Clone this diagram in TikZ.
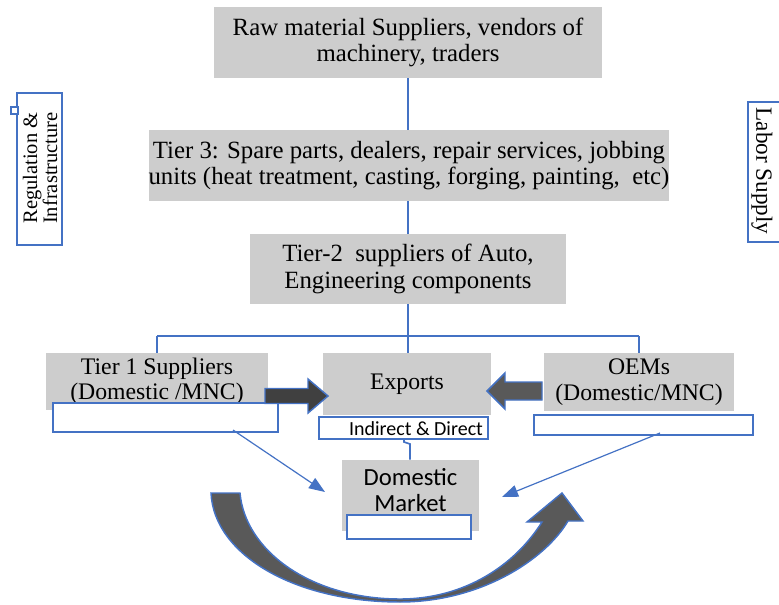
\documentclass[tikz,border=0pt]{standalone}
\usepackage{fontspec}
\setmainfont{Liberation Serif}
\newfontfamily\calfont{Carlito}
\usetikzlibrary{arrows.meta,calc}
\definecolor{oblue}{HTML}{4472C4}
\definecolor{boxgray}{HTML}{CDCDCD}
\definecolor{darkarr}{HTML}{404040}
\definecolor{midarr}{HTML}{595959}
\begin{document}
\begin{tikzpicture}[x=0.75pt,y=-0.75pt,
  graybox/.style={fill=boxgray, draw=none, inner sep=0pt, align=center, font=\fontsize{18.6}{20}\selectfont},
  lowbox/.style={graybox, font=\fontsize{17.8}{19}\selectfont},
  wbox/.style={draw=oblue, line width=1.3pt, fill=white, inner sep=0pt},
  conn/.style={draw=oblue, line width=1.4pt},
  thinarr/.style={draw=oblue, line width=0.9pt, -{Triangle[length=12pt,width=9pt]}},
  blockarr/.style={draw=oblue, line width=1.1pt, line join=miter},
]
\useasboundingbox (0,0) rectangle (779,604);
\clip (0,0) rectangle (779,604);

% main chain
\node[graybox, minimum width=291pt, minimum height=53.25pt] (raw) at (408,42.5)
  {Raw material Suppliers, vendors of\\machinery, traders};
\node[graybox, minimum width=385.5pt, minimum height=53.25pt] (t3) at (409,165.5)
  {Tier 3: Spare parts, dealers, repair services, jobbing\\units (heat treatment, casting, forging, painting,\ \ etc)};
\node[graybox, minimum width=237pt, minimum height=52.5pt] (t2) at (408,269)
  {Tier-2\ \ suppliers of Auto,\\Engineering components};

\node[lowbox, minimum width=166.5pt, minimum height=42.75pt] (t1) at (157,381.5)
  {Tier 1 Suppliers\\(Domestic /MNC)};
\node[lowbox, minimum width=126pt, minimum height=46.5pt] (ex) at (407,384) {Exports};
\node[lowbox, minimum width=142.5pt, minimum height=43.5pt] (oem) at (639,382)
  {OEMs\\(Domestic/MNC)};
\node[graybox, minimum width=102.75pt, minimum height=53.25pt] (dom) at (410.5,495.5) {};
\node[font=\calfont\fontsize{18.5}{19.5}\selectfont, align=center, inner sep=0pt] (domtxt) at (410.5,490) {Domestic\\Market};

% white boxes
\node[wbox, minimum width=168.75pt, minimum height=21.75pt] (t1w) at (165.5,417.5) {};
\node[wbox, minimum width=126.75pt, minimum height=16.5pt] (exw) at (403.5,428) {};
\node[font=\calfont\fontsize{15}{16}\selectfont, inner sep=0pt] (extxt) at (416,429) {Indirect \& Direct};
\node[wbox, minimum width=164.25pt, minimum height=15pt] (oemw) at (643.5,425) {};
\node[wbox, minimum width=93pt, minimum height=18pt] (domw) at (409,527) {};

% side boxes
\node[wbox, line width=1.5pt, minimum width=33.75pt, minimum height=114pt] (reg) at (39.5,169) {};
\node[rotate=90, align=center, inner sep=0pt,
  font=\fontsize{15.4}{15}\selectfont] (regtxt) at (40,168) {Regulation \&\\Infrastructure};
\node[draw=oblue, line width=1pt, fill=white, minimum size=5.25pt, inner sep=0pt] (sq) at (14.5,110.5) {};
\node[wbox, line width=1.5pt, anchor=north west, minimum width=40pt, minimum height=105pt] (labor) at (747,101) {};
\node[rotate=-90, inner sep=0pt, font=\fontsize{17.4}{19}\selectfont] (labtxt) at (762,171) {Labor Supply};

% connectors
\coordinate (jc) at (408,336);
\coordinate (hl) at (157,336);
\coordinate (hr) at (639,336);
\draw[conn] (raw.south) -- (raw.south |- t3.north);
\draw[conn] (raw.south |- t3.south) -- (raw.south |- t2.north);
\draw[conn] (t2.south) -- (jc);
\draw[conn] (hl) -- (hr);
\draw[conn] (hl) -- (t1.north);
\draw[conn] (jc) -- (jc |- ex.north);
\draw[conn] (hr) -- (oem.north);
\coordinate (jog1) at (404,442);
\coordinate (jog2) at (410,444);
\draw[conn, line width=1.2pt] (jog1 |- exw.south) -- (jog1) -- (jog2) -- (jog2 |- dom.north);

% thin arrows
\coordinate (a1s) at (233,430);
\coordinate (a1e) at (325,492);
\coordinate (a2s) at (660,433);
\coordinate (a2e) at (502,497);
\draw[thinarr] (a1s) -- (a1e);
\draw[thinarr] (a2s) -- (a2e);

% block arrows
\filldraw[blockarr, fill=darkarr] (265,388.5) -- (308,388.5) -- (308,379) -- (328,396) -- (308,413) -- (308,403.5) -- (265,403.5) -- cycle;
\filldraw[blockarr, fill=midarr] (542,382) -- (505,382) -- (505,373) -- (487,391) -- (505,409) -- (505,400) -- (542,400) -- cycle;

% curved arrow
\filldraw[blockarr, fill=midarr] (211,493) .. controls (214,555) and (295,602) .. (400,602)
  .. controls (480,602) and (545,560) .. (568,521) -- (583,521) -- (562,493) -- (527,522) -- (542,522)
  .. controls (515,565) and (465,599) .. (400,599)
  .. controls (310,599) and (245,550) .. (240,493) -- cycle;
\end{tikzpicture}
\end{document}
